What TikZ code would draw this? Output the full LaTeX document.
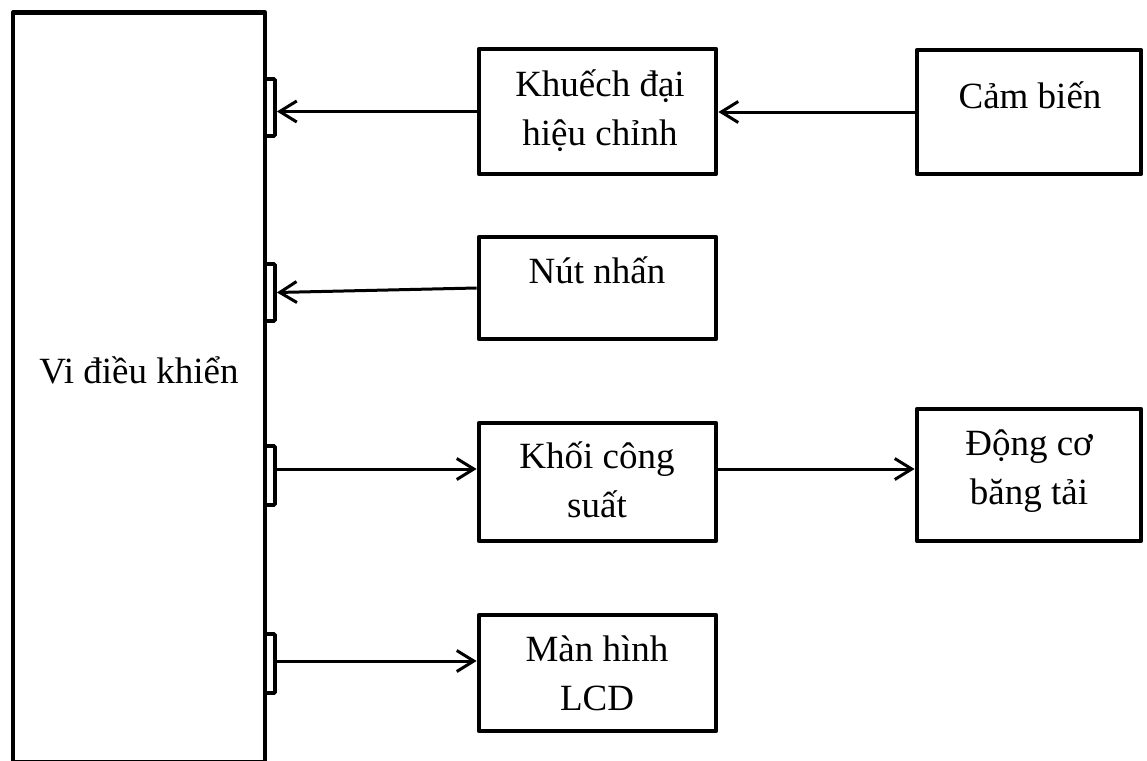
\documentclass[tikz,border=0pt]{standalone}
\usepackage{fontspec}
\setmainfont{Liberation Serif}
\usetikzlibrary{arrows.meta}
\newcommand\twolines[1]{\begin{tabular}[t]{@{}c@{}}#1\end{tabular}}
\begin{document}
\begin{tikzpicture}[x=1pt,y=-1pt,
  box/.style={draw, line width=4.8pt, line join=round, inner sep=0pt},
  port/.style={draw, line width=3.8pt, rounded corners=1.2pt, inner sep=0pt, minimum width=10pt},
  txt/.style={anchor=base, inner sep=0pt, font=\fontsize{37}{49}\selectfont},
  conn/.style={line width=3pt, -{Straight Barb[length=17pt,width=21pt]}}]
\useasboundingbox (0,0) rectangle (1147,760);
% main block
\node[box, minimum width=252pt, minimum height=750pt] (mcu) at (139,387.5) {};
\node[port, minimum height=57pt] (p1) at (270,107.5) {};
\node[port, minimum height=57pt] (p2) at (270,292.5) {};
\node[port, minimum height=59pt] (p3) at (270,475.5) {};
\node[port, minimum height=59pt] (p4) at (270,663.5) {};
% blocks
\node[box, minimum width=237pt, minimum height=125pt] (kd) at (597.5,111.5) {};
\node[box, minimum width=224pt, minimum height=124pt] (cb) at (1029,112) {};
\node[box, minimum width=237pt, minimum height=102pt] (nn) at (597.5,288) {};
\node[box, minimum width=237pt, minimum height=118pt] (kcs) at (597.5,482) {};
\node[box, minimum width=224pt, minimum height=132pt] (dc) at (1029,475) {};
\node[box, minimum width=237pt, minimum height=116pt] (lcd) at (597.5,673) {};
% texts
\node[txt] (mcu-t) at (139,383) {Vi điều khiển};
\node[txt] (kd-t) at (600,96) {\twolines{Khuếch đại\\hiệu chỉnh}};
\node[txt] (cb-t) at (1030,108) {Cảm biến};
\node[txt] (nn-t) at (597,283) {Nút nhấn};
\node[txt] (kcs-t) at (597,468) {\twolines{Khối công\\suất}};
\node[txt] (dc-t) at (1029,455) {\twolines{Động cơ\\băng tải}};
\node[txt] (lcd-t) at (597,661) {\twolines{Màn hình\\LCD}};
% connectors
\coordinate (y3) at (0,469);
\coordinate (y4) at (0,661);
\draw[conn] (cb.west) -- (kd.east |- cb.west);
\draw[conn] (kd.west) -- (p1.east |- kd.west);
\draw[conn] (nn.west) -- (p2.east);
\draw[conn] (p3.east |- y3) -- (kcs.west |- y3);
\draw[conn] (kcs.east |- y3) -- (dc.west |- y3);
\draw[conn] (p4.east |- y4) -- (lcd.west |- y4);
\end{tikzpicture}
\end{document}
